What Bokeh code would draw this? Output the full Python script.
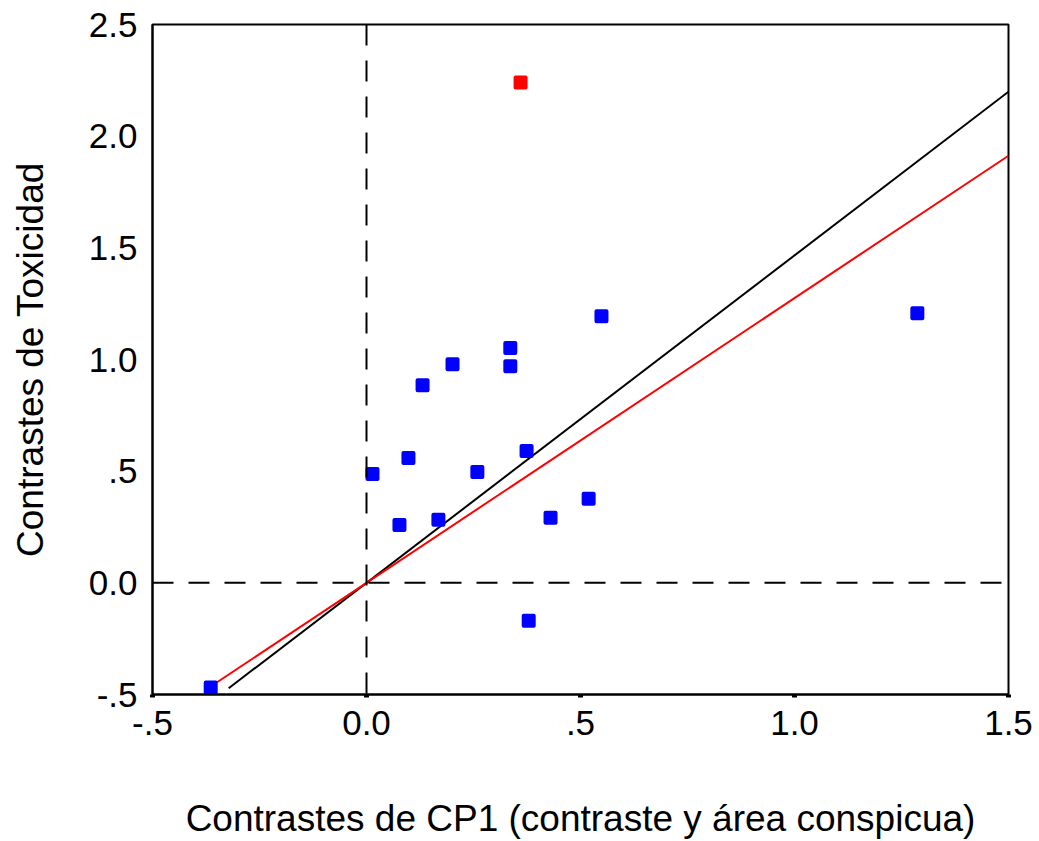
from bokeh.plotting import figure
from bokeh.models import Range1d, FixedTicker, Span
from bokeh.embed import file_html
from bokeh.resources import INLINE
import numpy as np

# Data
x_blue = [-0.364, 0.014, 0.098, 0.077, 0.131, 0.168, 0.201, 0.259, 0.336, 0.336,
          0.374, 0.379, 0.430, 0.519, 0.549, 1.287]
y_blue = [-0.469, 0.487, 0.559, 0.259, 0.885, 0.282, 0.979, 0.496, 1.051, 0.970,
          0.590, -0.170, 0.291, 0.376, 1.194, 1.207]
x_red = [0.360]
y_red = [2.240]

# Regression lines through origin
black_slope = 1.466
black_x = [-0.322, 1.5]
red_slope = 1.275
red_x = [-0.364, 1.5]

x_ticks = [-0.5, 0.0, 0.5, 1.0, 1.5]
x_tick_labels = ["-.5", "0.0", ".5", "1.0", "1.5"]
y_ticks = [-0.5, 0.0, 0.5, 1.0, 1.5, 2.0, 2.5]
y_tick_labels = ["-.5", "0.0", ".5", "1.0", "1.5", "2.0", "2.5"]

FONT = "Liberation Sans"

p = figure(width=1039, height=841, output_backend="svg", toolbar_location=None,
           x_range=Range1d(-0.5, 1.5), y_range=Range1d(-0.5, 2.5),
           min_border_left=152, min_border_right=31, min_border_top=24, min_border_bottom=146)

p.background_fill_color = "white"
p.border_fill_color = "white"
p.outline_line_color = "black"
p.outline_line_width = 2
p.xgrid.visible = False
p.ygrid.visible = False

# Axes
p.xaxis.ticker = FixedTicker(ticks=x_ticks)
p.xaxis.major_label_overrides = {t: l for t, l in zip(x_ticks, x_tick_labels)}
p.yaxis.ticker = FixedTicker(ticks=y_ticks)
p.yaxis.major_label_overrides = {t: l for t, l in zip(y_ticks, y_tick_labels)}
for ax in (p.xaxis[0], p.yaxis[0]):
    ax.axis_line_color = "black"
    ax.axis_line_width = 2
    ax.minor_tick_line_color = None
    ax.major_label_text_font = FONT
    ax.major_label_text_font_size = "35px"
    ax.major_label_text_color = "black"
    ax.axis_label_text_font = FONT
    ax.axis_label_text_font_size = "37px"
    ax.axis_label_text_font_style = "normal"
    ax.axis_label_text_color = "black"

p.xaxis.major_tick_in = 0
p.xaxis.major_tick_out = 3
p.xaxis.major_tick_line_width = 5
p.xaxis.major_label_standoff = 13
p.xaxis.axis_label = "Contrastes de CP1 (contraste y área conspicua)"
p.xaxis.axis_label_standoff = 60

p.yaxis.major_tick_line_color = None
p.yaxis.major_tick_in = 0
p.yaxis.major_tick_out = 0
p.yaxis.major_label_standoff = 15
p.yaxis.axis_label = "Contrastes de Toxicidad"
p.yaxis.axis_label_standoff = 35

# Reference dashed lines
p.add_layout(Span(location=0, dimension="height", line_color="black",
                  line_width=2, line_dash="21 15"))
p.add_layout(Span(location=0, dimension="width", line_color="black",
                  line_width=2, line_dash="21 15"))

# Regression lines
bx = np.array(black_x)
rx = np.array(red_x)
p.line(bx, black_slope * bx, line_color="black", line_width=2)
p.line(rx, red_slope * rx, line_color="red", line_width=2)

# Points
p.scatter(x_blue, y_blue, marker="square", size=10, fill_color="#0000ff",
          line_color="#0000ff", line_width=4, line_join="round")
p.scatter(x_red, y_red, marker="square", size=10, fill_color="#ff0000",
          line_color="#ff0000", line_width=4, line_join="round")

open("out.html", "w").write(file_html(p, INLINE))
